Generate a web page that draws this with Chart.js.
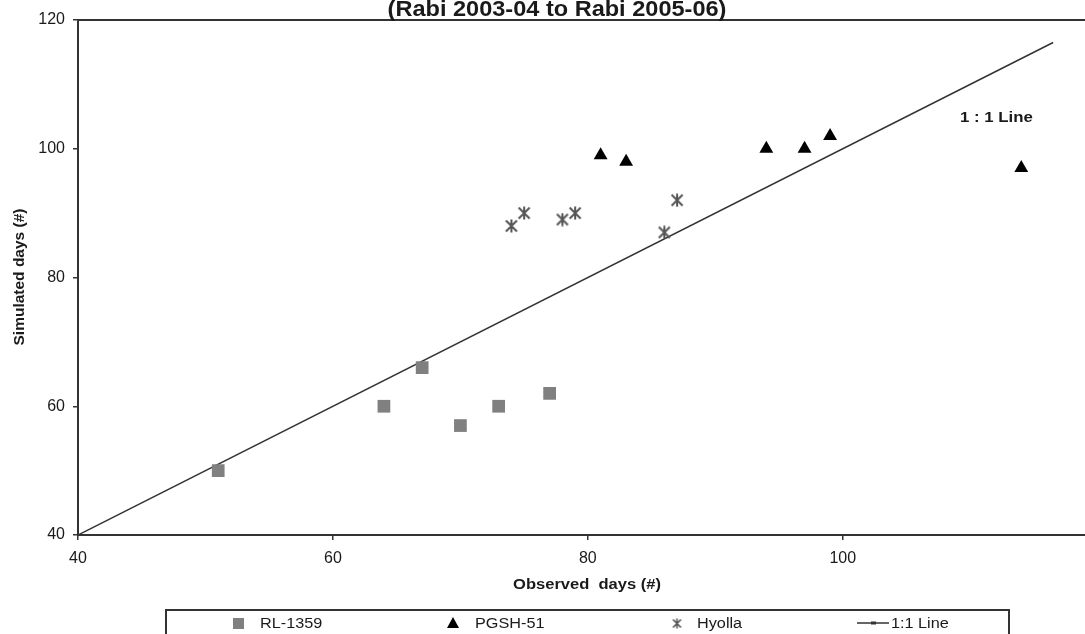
<!DOCTYPE html>
<html><head><meta charset="utf-8">
<script src="https://cdn.jsdelivr.net/npm/chart.js@4.4.1/dist/chart.umd.min.js"></script>
<style>html,body{margin:0;padding:0;background:#fff;overflow:hidden}#wrap{width:1085px;height:634px;position:relative}</style>
</head><body><div id="wrap"><canvas id="c" width="1085" height="634"></canvas></div>
<script>
const titleText = '(Rabi 2003-04 to Rabi 2005-06)';
const xAxisTitle = 'Observed  days (#)';
const yAxisTitle = 'Simulated days (#)';
const lineNote = '1 : 1 Line';
const seriesNames = ['RL-1359', 'PGSH-51', 'Hyolla', '1:1 Line'];
const rlObserved = [51, 64, 67, 70, 73, 77];
const rlSimulated = [50, 60, 66, 57, 60, 62];
const pgshObserved = [81, 83, 94, 97, 99, 114];
const pgshSimulated = [99, 98, 100, 100, 102, 97];
const hyollaObserved = [74, 75, 78, 79, 86, 87];
const hyollaSimulated = [88, 90, 89, 90, 87, 92];
const lineObserved = [40, 116.5];
const lineSimulated = [40, 116.5];
const xTicks = [40, 60, 80, 100];
const yTicks = [40, 60, 80, 100, 120];
const xRange = [40, 119];
const yRange = [40, 120];

const FONT = "'Liberation Sans', Arial, sans-serif";
const AXIS = '#333';

function pts(xs, ys) { return xs.map((x, i) => ({ x: x, y: ys[i] })); }

function makeAsterisk(size, color, lw) {
  const c = document.createElement('canvas');
  c.width = size; c.height = size;
  const g = c.getContext('2d');
  g.strokeStyle = color; g.lineWidth = lw; g.lineCap = 'butt';
  const m = 1.5, s = size;
  g.beginPath();
  g.moveTo(m, m); g.lineTo(s - m, s - m);
  g.moveTo(s - m, m); g.lineTo(m, s - m);
  g.moveTo(s / 2, 0.5); g.lineTo(s / 2, s - 0.5);
  g.stroke();
  return c;
}
const asteriskBig = makeAsterisk(14, '#555', 2);
const asteriskSmall = makeAsterisk(11, '#555', 1.6);

function sText(ctx, txt, x, y, align, sx) {
  ctx.save();
  ctx.translate(x, y);
  ctx.scale(sx, 1);
  ctx.textAlign = align;
  ctx.fillText(txt, 0, 0);
  ctx.restore();
}

const decor = {
  id: 'decor',
  afterDraw(chart) {
    const ctx = chart.ctx, a = chart.chartArea;
    ctx.save();
    ctx.strokeStyle = AXIS; ctx.lineWidth = 2;
    ctx.beginPath(); ctx.moveTo(a.left - 1, a.top); ctx.lineTo(a.right, a.top); ctx.stroke();
    ctx.fillStyle = '#1a1a1a';
    ctx.textBaseline = 'alphabetic';
    ctx.font = 'bold 22px ' + FONT;
    sText(ctx, titleText, 557, 16, 'center', 1.07);
    ctx.font = 'bold 14px ' + FONT;
    sText(ctx, xAxisTitle, 587, 589, 'center', 1.18);
    ctx.font = 'bold 15px ' + FONT;
    sText(ctx, lineNote, 960, 122, 'left', 1.12);
    ctx.save();
    ctx.translate(20, 277);
    ctx.rotate(-Math.PI / 2);
    ctx.font = 'bold 15.5px ' + FONT;
    ctx.textAlign = 'center'; ctx.textBaseline = 'middle';
    ctx.fillText(yAxisTitle, 0, 0);
    ctx.restore();

    ctx.strokeStyle = AXIS; ctx.lineWidth = 2;
    ctx.strokeRect(166, 610, 843, 40);
    const ly = 623;
    ctx.font = '14px ' + FONT;
    ctx.fillStyle = '#808080';
    ctx.fillRect(233, ly - 5, 11, 11);
    ctx.fillStyle = '#000';
    ctx.beginPath();
    ctx.moveTo(453, ly - 6); ctx.lineTo(459, ly + 5); ctx.lineTo(447, ly + 5); ctx.closePath(); ctx.fill();
    ctx.drawImage(asteriskSmall, 677 - 5.5, ly - 5);
    ctx.strokeStyle = '#333'; ctx.lineWidth = 1.5;
    ctx.beginPath(); ctx.moveTo(857, ly); ctx.lineTo(889, ly); ctx.stroke();
    ctx.fillStyle = '#333';
    ctx.fillRect(871, ly - 1.5, 5, 3);
    ctx.fillStyle = '#1a1a1a';
    const lx = [260, 475, 697, 891];
    seriesNames.forEach((n, i) => sText(ctx, n, lx[i], ly + 5, 'left', 1.16));
    ctx.restore();
  }
};

new Chart(document.getElementById('c'), {
  type: 'scatter',
  data: {
    datasets: [
      { label: seriesNames[0], data: pts(rlObserved, rlSimulated), pointStyle: 'rect', pointRadius: 9, pointHoverRadius: 9,
        backgroundColor: '#808080', borderColor: '#808080', borderWidth: 0 },
      { label: seriesNames[1], data: pts(pgshObserved, pgshSimulated), pointStyle: 'triangle', pointRadius: 8, pointHoverRadius: 8,
        backgroundColor: '#000', borderColor: '#000', borderWidth: 0 },
      { label: seriesNames[2], data: pts(hyollaObserved, hyollaSimulated), pointStyle: asteriskBig, pointRadius: 7,
        backgroundColor: '#555', borderColor: '#555' },
      { label: seriesNames[3], type: 'line', data: pts(lineObserved, lineSimulated), borderColor: '#333', borderWidth: 1.5,
        pointRadius: 0, showLine: true, fill: false, tension: 0 }
    ]
  },
  options: {
    responsive: false,
    devicePixelRatio: 1,
    animation: false,
    layout: { autoPadding: false, padding: { top: 20, right: 0, left: 0, bottom: 0 } },
    plugins: { legend: { display: false }, tooltip: { enabled: false }, title: { display: false } },
    scales: {
      x: {
        type: 'linear', min: xRange[0], max: xRange[1],
        afterBuildTicks: s => { s.ticks = xTicks.map(v => ({ value: v })); },
        afterFit: s => { s.height = 99; s.paddingRight = 0; s.paddingLeft = 0; },
        grid: { display: true, drawOnChartArea: false, drawTicks: true, tickLength: 5, color: AXIS, lineWidth: 1.5 },
        border: { display: true, color: AXIS, width: 2 },
        ticks: { padding: 9, color: '#1a1a1a', font: { family: FONT, size: 16 }, maxRotation: 0 }
      },
      y: {
        type: 'linear', min: yRange[0], max: yRange[1],
        afterBuildTicks: s => { s.ticks = yTicks.map(v => ({ value: v })); },
        afterFit: s => { s.width = 78; s.paddingTop = 0; s.paddingBottom = 0; },
        grid: { display: true, drawOnChartArea: false, drawTicks: true, tickLength: 5, color: AXIS, lineWidth: 1.5 },
        border: { display: true, color: AXIS, width: 2 },
        ticks: { padding: 8, color: '#1a1a1a', font: { family: FONT, size: 16 } }
      }
    }
  },
  plugins: [decor]
});
</script></body></html>
